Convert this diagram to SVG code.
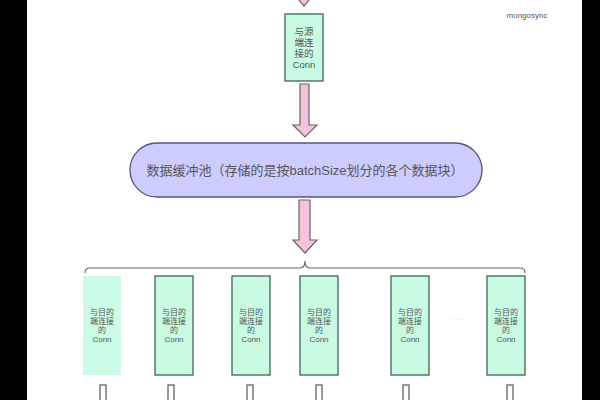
<svg xmlns="http://www.w3.org/2000/svg" width="600" height="400" viewBox="0 0 600 400">
<style>
.node{fill:#c9fbe3;stroke:#3d6655;stroke-width:1.3}
.t{font-family:"Liberation Sans","Noto Sans CJK SC",sans-serif;fill:#555;text-anchor:middle}
.tn{font-size:9.5px}
.ts{font-size:8px}
.arrow{fill:#f7c3dc;stroke:#666;stroke-width:1.2}
.stub{fill:#fff;stroke:#555;stroke-width:1.2}
</style>
<rect x="0" y="0" width="600" height="400" fill="#fff"/>
<rect x="0" y="0" width="27" height="400" fill="#000"/>
<rect x="582" y="0" width="18" height="400" fill="#000"/>
<text class="t" x="527" y="18" style="font-size:8px">mongosync</text>
<g id="connectors">
<polygon class="arrow" points="299,-20 309,-20 309,-6 314,-6 304,6 294,-6 299,-6"/>
<polygon class="arrow" points="300,84 309,84 309,125 317,125 305,137 293,125 300,125"/>
<polygon class="arrow" points="299,200 310,200 310,240 317,240 305,253 293,240 299,240"/>
<path d="M85,273 Q85,268 90,268 L300,268 Q305,268 305,261 Q305,268 310,268 L520,268 Q525,268 525,273" fill="none" stroke="#666" stroke-width="1.2"/>
<rect class="stub" x="100" y="385" width="6" height="20"/>
<rect class="stub" x="168" y="385" width="6" height="20"/>
<rect class="stub" x="247" y="385" width="6" height="20"/>
<rect class="stub" x="316" y="385" width="6" height="20"/>
<rect class="stub" x="403" y="385" width="6" height="20"/>
<rect class="stub" x="507" y="385" width="6" height="20"/>
</g>
<g id="src-conn">
<rect class="node" x="285" y="14" width="38" height="67"/>
<text class="t tn" x="304" y="35">与源</text>
<text class="t tn" x="304" y="46">端连</text>
<text class="t tn" x="304" y="57">接的</text>
<text class="t tn" x="304" y="68">Conn</text>
</g>
<g id="buffer">
<rect x="130" y="143" width="352" height="54" rx="27" ry="27" fill="#ccccff" stroke="#555577" stroke-width="1.3"/>
<text class="t" x="305" y="175" style="font-size:13px">数据缓冲池（存储的是按batchSize划分的各个数据块）</text>
</g>
<g id="dst1">
<rect x="83" y="276" width="38" height="99" fill="#cdfce6"/>
<text class="t ts" x="102" y="315">与目的</text>
<text class="t ts" x="102" y="324">端连接</text>
<text class="t ts" x="102" y="333">的</text>
<text class="t ts" x="102" y="342">Conn</text>
</g>
<g id="dst2">
<rect class="node" x="155" y="276" width="38" height="99"/>
<text class="t ts" x="174" y="315">与目的</text>
<text class="t ts" x="174" y="324">端连接</text>
<text class="t ts" x="174" y="333">的</text>
<text class="t ts" x="174" y="342">Conn</text>
</g>
<g id="dst3">
<rect class="node" x="232" y="276" width="38" height="99"/>
<text class="t ts" x="251" y="315">与目的</text>
<text class="t ts" x="251" y="324">端连接</text>
<text class="t ts" x="251" y="333">的</text>
<text class="t ts" x="251" y="342">Conn</text>
</g>
<g id="dst4">
<rect class="node" x="300" y="276" width="38" height="99"/>
<text class="t ts" x="319" y="315">与目的</text>
<text class="t ts" x="319" y="324">端连接</text>
<text class="t ts" x="319" y="333">的</text>
<text class="t ts" x="319" y="342">Conn</text>
</g>
<g id="dst5">
<rect class="node" x="391" y="276" width="38" height="99"/>
<text class="t ts" x="410" y="315">与目的</text>
<text class="t ts" x="410" y="324">端连接</text>
<text class="t ts" x="410" y="333">的</text>
<text class="t ts" x="410" y="342">Conn</text>
</g>
<text class="t" x="457" y="321" style="font-size:6px;fill:#ccc">······</text>
<g id="dst6">
<rect class="node" x="487" y="276" width="38" height="99"/>
<text class="t ts" x="506" y="315">与目的</text>
<text class="t ts" x="506" y="324">端连接</text>
<text class="t ts" x="506" y="333">的</text>
<text class="t ts" x="506" y="342">Conn</text>
</g>
</svg>
